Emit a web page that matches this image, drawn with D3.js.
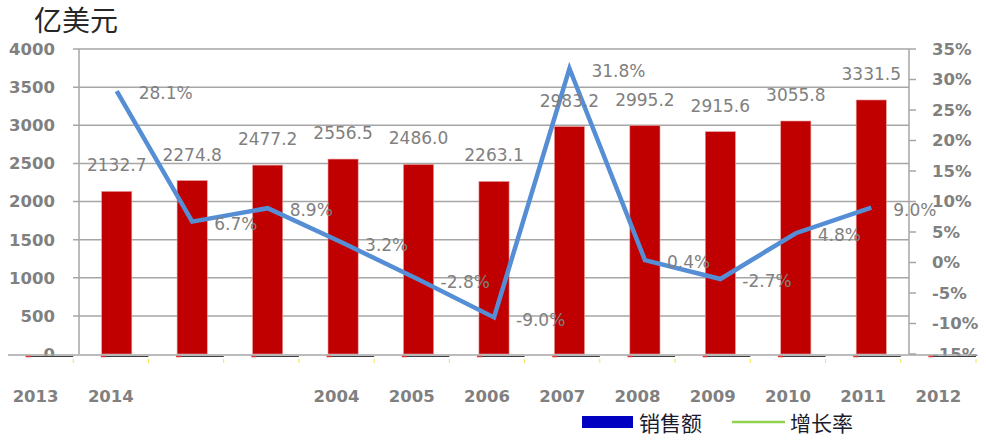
<!DOCTYPE html>
<html>
<head>
<meta charset="utf-8">
<script src="https://cdn.jsdelivr.net/npm/d3@7"></script>
<style>
  body { margin: 0; background: #fff; }
  svg { display: block; }
</style>
</head>
<body>
<div id="chart"></div>
<script>
// Values.
let sales = [2132.7, 2274.8, 2477.2, 2556.5, 2486.0, 2263.1, 2983.2, 2995.2, 2915.6, 3055.8, 3331.5];
let growth = [28.1, 6.7, 8.9, 3.2, -2.8, -9.0, 31.8, 0.4, -2.7, 4.8, 9.0];
let xLabels = ["2013", "2014", "", "", "2004", "2005", "2006", "2007", "2008", "2009", "2010", "2011", "2012"];
let leftTicks = [0, 500, 1000, 1500, 2000, 2500, 3000, 3500, 4000];
let rightTicks = [-15, -10, -5, 0, 5, 10, 15, 20, 25, 30, 35];

let W = 986, H = 444;
let plot = {left: 79, right: 909, top: 49, bottom: 354};
let grey = "#808080";
let font = "DejaVu Sans";

let svg = d3.select("#chart").append("svg")
            .attr("width", W)
            .attr("height", H);

// Scales.
let x = d3.scaleBand()
          .domain(d3.range(sales.length))
          .range([plot.left, plot.right])
          .paddingInner(0.6)
          .paddingOuter(0.3);

let y = d3.scaleLinear().domain([0, 4000]).range([plot.bottom, plot.top]);
let y2 = d3.scaleLinear().domain([-15, 35]).range([plot.bottom, plot.top]);

// The lower category axis runs wider than the plot.
let xb = d3.scaleBand()
           .domain(d3.range(xLabels.length))
           .range([-2, 976]);

// Gridlines.
svg.append("g")
   .selectAll("line")
   .data(leftTicks.filter(d => d > 0))
   .enter()
   .append("line")
   .attr("x1", plot.left - 6)
   .attr("x2", plot.right)
   .attr("y1", d => y(d))
   .attr("y2", d => y(d))
   .attr("stroke", "#a6a6a6")
   .attr("stroke-width", 1.5);

// Left axis line.
svg.append("line")
   .attr("x1", plot.left).attr("x2", plot.left)
   .attr("y1", plot.top).attr("y2", plot.bottom)
   .attr("stroke", "#a6a6a6").attr("stroke-width", 1.5);

// Right axis with ticks.
let right = svg.append("g").attr("transform", "translate(" + plot.right + ",0)");
right.append("line")
     .attr("y1", plot.top).attr("y2", plot.bottom)
     .attr("stroke", "#a6a6a6").attr("stroke-width", 1.5);
right.selectAll("line.tk")
     .data(rightTicks)
     .enter()
     .append("line")
     .attr("class", "tk")
     .attr("x1", 0).attr("x2", 7)
     .attr("y1", d => y2(d)).attr("y2", d => y2(d))
     .attr("stroke", "#a6a6a6").attr("stroke-width", 1.5);

// Left tick labels.
svg.append("g")
   .selectAll("text")
   .data(leftTicks)
   .enter()
   .append("text")
   .attr("x", 55)
   .attr("y", d => y(d))
   .attr("dy", "0.36em")
   .attr("text-anchor", "end")
   .attr("font-family", font)
   .attr("font-weight", "bold")
   .attr("font-size", "16.5px")
   .attr("fill", grey)
   .text(d => d);

// Right tick labels.
svg.append("g")
   .selectAll("text")
   .data(rightTicks)
   .enter()
   .append("text")
   .attr("x", 932)
   .attr("y", d => y2(d))
   .attr("dy", "0.36em")
   .attr("font-family", font)
   .attr("font-weight", "bold")
   .attr("font-size", "16.5px")
   .attr("fill", grey)
   .text(d => d + "%");

// Bars.
svg.append("g")
   .selectAll("rect")
   .data(sales)
   .enter()
   .append("rect")
   .attr("x", (d, i) => x(i))
   .attr("y", d => y(d))
   .attr("width", x.bandwidth())
   .attr("height", d => y(0) - y(d))
   .attr("fill", "#c00000")
   .attr("stroke", "#e8a0a0")
   .attr("stroke-width", 0.6);

// White strip under the baseline hides the lower half of "0" and "-15%".
svg.append("rect")
   .attr("x", 0).attr("y", plot.bottom + 2)
   .attr("width", W).attr("height", H - plot.bottom - 2)
   .attr("fill", "#fff");

// Baseline of the lower category axis.
svg.append("line")
   .attr("x1", 8).attr("x2", 976)
   .attr("y1", plot.bottom + 1).attr("y2", plot.bottom + 1)
   .attr("stroke", "#a6a6a6").attr("stroke-width", 1.5);

// Small leftover marks under each slot of the lower axis.
let slots = svg.append("g");
slots.selectAll("line.dk")
     .data(xLabels)
     .enter()
     .append("line")
     .attr("class", "dk")
     .attr("x1", (d, i) => xb(i) + xb.bandwidth() / 2 - 6)
     .attr("x2", (d, i) => xb(i) + xb.bandwidth())
     .attr("y1", plot.bottom + 2.5).attr("y2", plot.bottom + 2.5)
     .attr("stroke", "#404040").attr("stroke-width", 1.2);
slots.selectAll("line.rd")
     .data(xLabels)
     .enter()
     .append("line")
     .attr("class", "rd")
     .attr("x1", (d, i) => xb(i) + xb.bandwidth() / 2 - 10)
     .attr("x2", (d, i) => xb(i) + xb.bandwidth() / 2 - 5)
     .attr("y1", plot.bottom + 2.5).attr("y2", plot.bottom + 2.5)
     .attr("stroke", "#e03030").attr("stroke-width", 1.5);
slots.selectAll("line.yl")
     .data(xLabels)
     .enter()
     .append("line")
     .attr("class", "yl")
     .attr("x1", (d, i) => xb(i) + xb.bandwidth())
     .attr("x2", (d, i) => xb(i) + xb.bandwidth())
     .attr("y1", plot.bottom + 5).attr("y2", plot.bottom + 9)
     .attr("stroke", "#f2e64a").attr("stroke-width", 1);

// Lower category labels.
svg.append("g")
   .selectAll("text")
   .data(xLabels)
   .enter()
   .append("text")
   .attr("x", (d, i) => xb(i) + xb.bandwidth() / 2)
   .attr("y", 402)
   .attr("text-anchor", "middle")
   .attr("font-family", font)
   .attr("font-weight", "bold")
   .attr("font-size", "16.5px")
   .attr("fill", grey)
   .text(d => d);

// Growth line.
svg.append("path")
   .datum(growth)
   .attr("fill", "none")
   .attr("stroke", "#558ed5")
   .attr("stroke-width", 4.5)
   .attr("stroke-linejoin", "miter")
   .attr("d", d3.line()
        .x((d, i) => x(i) + x.bandwidth() / 2)
        .y(d => y2(d)));

// Bar value labels.
svg.append("g")
   .selectAll("text")
   .data(sales)
   .enter()
   .append("text")
   .attr("x", (d, i) => x(i) + x.bandwidth() / 2)
   .attr("y", d => y(d) - 20)
   .attr("text-anchor", "middle")
   .attr("font-family", font)
   .attr("font-size", "17px")
   .attr("fill", grey)
   .text(d => d.toFixed(1));

// Growth labels.
svg.append("g")
   .selectAll("text")
   .data(growth)
   .enter()
   .append("text")
   .attr("x", (d, i) => x(i) + x.bandwidth() / 2 + 22)
   .attr("y", d => y2(d) + 2)
   .attr("dy", "0.36em")
   .attr("font-family", font)
   .attr("font-size", "17px")
   .attr("fill", grey)
   .text(d => d.toFixed(1) + "%");

// Unit title.
svg.append("text")
   .attr("x", 34)
   .attr("y", 31)
   .attr("font-family", "Noto Sans CJK SC")
   .attr("font-size", "28px")
   .attr("fill", "#262626")
   .text("亿美元");

// Legend.
svg.append("rect")
   .attr("x", 582).attr("y", 416)
   .attr("width", 51).attr("height", 12)
   .attr("fill", "#0000c0");
svg.append("text")
   .attr("x", 639).attr("y", 431)
   .attr("font-family", "Noto Sans CJK SC")
   .attr("font-size", "21px")
   .attr("fill", "#1a1a2e")
   .text("销售额");
svg.append("line")
   .attr("x1", 732).attr("x2", 785)
   .attr("y1", 422).attr("y2", 422)
   .attr("stroke", "#92d050").attr("stroke-width", 2.5);
svg.append("text")
   .attr("x", 790).attr("y", 431)
   .attr("font-family", "Noto Sans CJK SC")
   .attr("font-size", "21px")
   .attr("fill", "#1a1a2e")
   .text("增长率");
</script>
</body>
</html>
